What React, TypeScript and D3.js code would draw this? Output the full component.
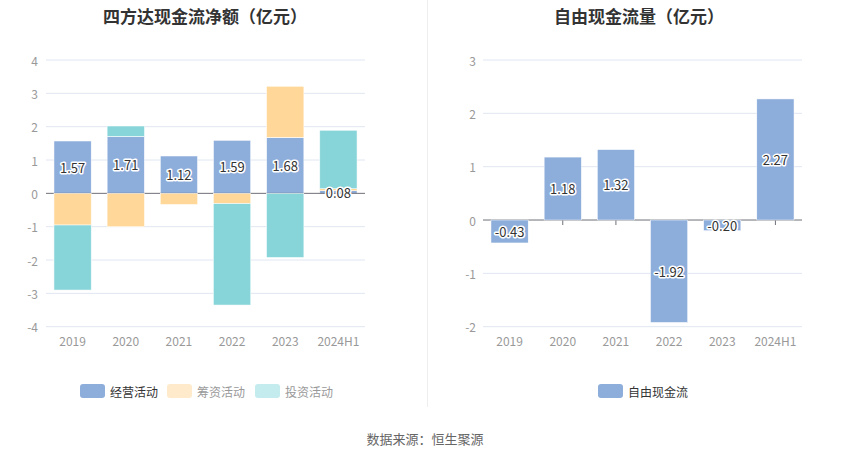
import React from "react";
import * as d3 from "d3";

const categories = ["2019", "2020", "2021", "2022", "2023", "2024H1"];
const operating = [1.57, 1.71, 1.12, 1.59, 1.68, 0.08];
const financing = [-0.95, -1.0, -0.33, -0.31, 1.53, 0.06];
const investing = [-1.95, 0.31, 0.0, -3.04, -1.92, 1.75];
const freeCash = [-0.43, 1.18, 1.32, -1.92, -0.2, 2.27];
const leftTicks = [-4, -3, -2, -1, 0, 1, 2, 3, 4];
const rightTicks = [-2, -1, 0, 1, 2, 3];

const FONT = "'Microsoft YaHei', 'Noto Sans CJK SC', 'Noto Sans', sans-serif";
const C_OP = "#8daddb";
const C_FIN = "#ffd899";
const C_INV = "#88d5d9";

type Seg = { cat: string; y0: number; y1: number; color: string; key: string };

function stackSegs(): Seg[] {
  const series = [
    { key: "op", vals: operating, color: C_OP },
    { key: "fin", vals: financing, color: C_FIN },
    { key: "inv", vals: investing, color: C_INV },
  ];
  const segs: Seg[] = [];
  categories.forEach((c, i) => {
    let pos = 0;
    let neg = 0;
    series.forEach((s) => {
      const v = s.vals[i];
      if (v === 0) return;
      if (v > 0) {
        segs.push({ cat: c, y0: pos, y1: pos + v, color: s.color, key: s.key });
        pos += v;
      } else {
        segs.push({ cat: c, y0: neg, y1: neg + v, color: s.color, key: s.key });
        neg += v;
      }
    });
  });
  return segs;
}

function Label({ x, y, text }: { x: number; y: number; text: string }) {
  return (
    <text
      x={x}
      y={y}
      textAnchor="middle"
      dominantBaseline="central"
      fontSize={13}
      fontFamily={FONT}
      fill="#333"
      stroke="#fff"
      strokeWidth={3}
      strokeLinejoin="round"
      paintOrder="stroke"
    >
      {text}
    </text>
  );
}

export default function App() {
  const top = 60;
  const bottom = 326.7;

  // Left chart
  const xL = d3.scaleBand<string>().domain(categories).range([46, 365]).paddingInner(0.3).paddingOuter(0.15);
  const bandL = d3.scaleBand<string>().domain(categories).range([46, 365]);
  const yL = d3.scaleLinear().domain([-4, 4]).range([bottom, top]);
  const segs = stackSegs();

  // Right chart
  const xR = d3.scaleBand<string>().domain(categories).range([483, 802]).paddingInner(0.3).paddingOuter(0.15);
  const bandR = d3.scaleBand<string>().domain(categories).range([483, 802]);
  const yR = d3.scaleLinear().domain([-2, 3]).range([bottom, top]);

  return (
    <svg width={850} height={459} style={{ position: "absolute", left: 0, top: 0 }} fontFamily={FONT}>
      <rect width={850} height={459} fill="#fff" />
      {/* Titles */}
      <text x={205} y={15} textAnchor="middle" dominantBaseline="central" fontSize={17} fontWeight="bold" fill="#333">
        四方达现金流净额（亿元）
      </text>
      <text x={639} y={15} textAnchor="middle" dominantBaseline="central" fontSize={17} fontWeight="bold" fill="#333">
        自由现金流量（亿元）
      </text>
      {/* divider */}
      <line x1={427.5} x2={427.5} y1={0} y2={407} stroke="#eee" />

      {/* Left grid */}
      {leftTicks.map((t) => (
        <g key={"lg" + t}>
          {t !== 0 && <line x1={46} x2={365} y1={yL(t)} y2={yL(t)} stroke="#e0e6f1" />}
          <text x={38} y={yL(t)} textAnchor="end" dominantBaseline="central" fontSize={12} fill="#999">
            {t}
          </text>
        </g>
      ))}
      {segs.map((s, i) => (
        <rect
          key={"s" + i}
          x={xL(s.cat)!}
          width={xL.bandwidth()}
          y={yL(Math.max(s.y0, s.y1))}
          height={Math.abs(yL(s.y0) - yL(s.y1))}
          fill={s.color}
          stroke="#fff"
          strokeWidth={0.5}
        />
      ))}
      <line x1={46} x2={365} y1={yL(0)} y2={yL(0)} stroke="#6e7079" />
      {categories.map((c) => (
        <g key={"lx" + c}>
          <line x1={bandL(c)! + bandL.bandwidth() / 2} x2={bandL(c)! + bandL.bandwidth() / 2} y1={yL(0)} y2={yL(0) + 5} stroke="#6e7079" />
        </g>
      ))}
      {segs
        .filter((s) => s.key !== "op")
        .map((s, i) => (
          <rect
            key={"r" + i}
            x={xL(s.cat)!}
            width={xL.bandwidth()}
            y={yL(Math.max(s.y0, s.y1))}
            height={Math.abs(yL(s.y0) - yL(s.y1))}
            fill={s.color}
            stroke="#fff"
            strokeWidth={0.5}
          />
        ))}
      {categories.map((c) => (
        <text key={"lxl" + c} x={bandL(c)! + bandL.bandwidth() / 2} y={340} textAnchor="middle" dominantBaseline="central" fontSize={12} fill="#999">
          {c}
        </text>
      ))}
      {categories.map((c, i) => (
        <Label key={"ll" + c} x={bandL(c)! + bandL.bandwidth() / 2} y={yL(operating[i] / 2)} text={operating[i].toFixed(2)} />
      ))}

      {/* Right grid */}
      {rightTicks.map((t) => (
        <g key={"rg" + t}>
          {t !== 0 && <line x1={483} x2={802} y1={yR(t)} y2={yR(t)} stroke="#e0e6f1" />}
          <text x={476} y={yR(t)} textAnchor="end" dominantBaseline="central" fontSize={12} fill="#999">
            {t}
          </text>
        </g>
      ))}
      <line x1={483} x2={802} y1={yR(0)} y2={yR(0)} stroke="#6e7079" />
      {categories.map((c) => (
        <line key={"rt" + c} x1={bandR(c)! + bandR.bandwidth() / 2} x2={bandR(c)! + bandR.bandwidth() / 2} y1={yR(0)} y2={yR(0) + 5} stroke="#6e7079" />
      ))}
      {categories.map((c, i) => (
        <rect
          key={"rb" + c}
          x={xR(c)!}
          width={xR.bandwidth()}
          y={yR(Math.max(0, freeCash[i]))}
          height={Math.abs(yR(freeCash[i]) - yR(0))}
          fill={C_OP}
          stroke="#fff"
          strokeWidth={0.5}
        />
      ))}
      {categories.map((c) => (
        <text key={"rxl" + c} x={bandR(c)! + bandR.bandwidth() / 2} y={340} textAnchor="middle" dominantBaseline="central" fontSize={12} fill="#999">
          {c}
        </text>
      ))}
      {categories.map((c, i) => (
        <Label key={"rl" + c} x={bandR(c)! + bandR.bandwidth() / 2} y={yR(freeCash[i] / 2)} text={freeCash[i].toFixed(2)} />
      ))}

      {/* Legends */}
      <g fontSize={12}>
        <rect x={80} y={384} width={25} height={14} rx={3} fill={C_OP} />
        <text x={110} y={391} dominantBaseline="central" fill="#333">经营活动</text>
        <rect x={167} y={384} width={25} height={14} rx={3} fill="#ffebcc" />
        <text x={197} y={391} dominantBaseline="central" fill="#999">筹资活动</text>
        <rect x={255} y={384} width={25} height={14} rx={3} fill="#c4ebed" />
        <text x={285} y={391} dominantBaseline="central" fill="#999">投资活动</text>

        <rect x={598} y={384} width={25} height={14} rx={3} fill={C_OP} />
        <text x={628} y={391} dominantBaseline="central" fill="#333">自由现金流</text>
      </g>

      {/* Footer */}
      <text x={425} y={438} textAnchor="middle" dominantBaseline="central" fontSize={13} fill="#666">
        数据来源：恒生聚源
      </text>
    </svg>
  );
}
